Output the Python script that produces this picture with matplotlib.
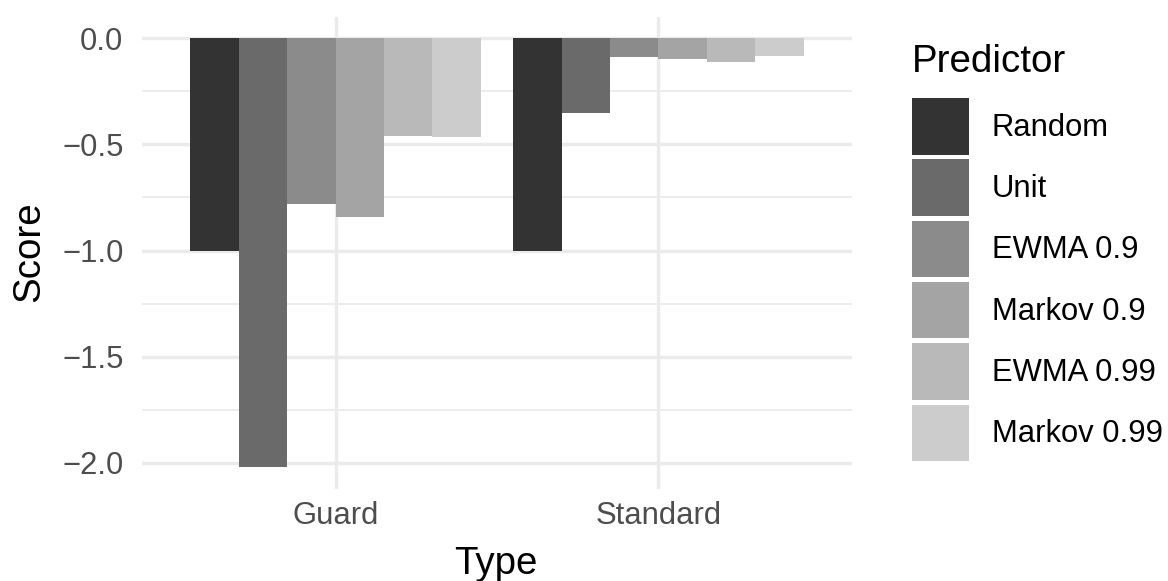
import matplotlib.pyplot as plt
import numpy as np
from matplotlib.patches import Patch

types = ["Guard", "Standard"]
predictors = ["Random", "Unit", "EWMA 0.9", "Markov 0.9", "EWMA 0.99", "Markov 0.99"]
guard_scores = [-1.0, -2.02, -0.78, -0.84, -0.46, -0.465]
standard_scores = [-1.0, -0.355, -0.09, -0.10, -0.114, -0.086]
y_ticks = [0.0, -0.5, -1.0, -1.5, -2.0]

# grey palette, dark to light
fills = ["#333333", "#6A6A6A", "#8B8B8B", "#A4A4A4", "#B9B9B9", "#CCCCCC"]

plt.rcParams["font.family"] = ["Liberation Sans", "DejaVu Sans"]

W, H = 1168, 581
fig = plt.figure(figsize=(W / 100, H / 100), dpi=100)
px_l, px_r, px_t, px_b = 142, 852, 16.6, 488.7
ax = fig.add_axes([px_l / W, 1 - px_b / H, (px_r - px_l) / W, (px_b - px_t) / H])

scores = np.array([guard_scores, standard_scores])
x = np.arange(len(types))
n = len(predictors)
width = 0.9 / n
handles = []
for i, name in enumerate(predictors):
    offs = (i - (n - 1) / 2) * width
    ax.bar(x + offs, scores[:, i], width=width, color=fills[i], linewidth=0, zorder=3)
    handles.append(Patch(facecolor=fills[i], edgecolor="none", label=name))

lo = scores.min()
hi = max(scores.max(), 0)
span = hi - lo
ax.set_ylim(lo - 0.05 * span, hi + 0.05 * span)
ax.set_xlim(-0.6, len(types) - 1 + 0.6)

ax.set_yticks(y_ticks)
ax.set_yticklabels([f"{v:.1f}".replace("-", "\u2212") for v in y_ticks])
ax.set_yticks([-0.25, -0.75, -1.25, -1.75], minor=True)
ax.set_xticks(x)
ax.set_xticklabels(types)

ax.grid(True, which="major", color="#EBEBEB", linewidth=2.5, zorder=0)
ax.grid(True, which="minor", axis="y", color="#EBEBEB", linewidth=1.3, zorder=0)
ax.tick_params(axis="both", which="both", length=0, labelsize=22.3, labelcolor="#4D4D4D")
ax.tick_params(axis="x", pad=8.9)
ax.tick_params(axis="y", pad=13.4)
for s in ax.spines.values():
    s.set_visible(False)

fig.text(495.5 / W, 1 - 574 / H, "Type", fontsize=27.7, ha="center", va="baseline")
fig.text(29.5 / W, 1 - 252 / H, "Score", fontsize=27.7, rotation=90, ha="center", va="center")

fig.text(912 / W, 1 - 71.7 / H, "Predictor", fontsize=27.7, ha="left", va="baseline")
fig.legend(
    handles=handles,
    loc="upper left",
    bbox_to_anchor=(912 / W, 1 - 98 / H),
    frameon=False,
    borderpad=0,
    borderaxespad=0,
    fontsize=22.3,
    handlelength=1.84,
    handleheight=2.43,
    labelspacing=0.155,
    handletextpad=0.74,
)

fig.savefig("out.png", dpi=100, facecolor="white")
